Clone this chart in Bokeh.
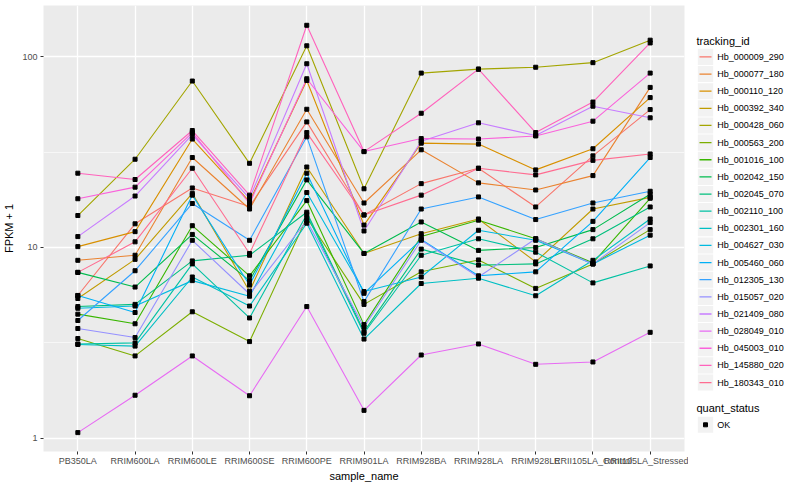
from bokeh.plotting import figure
from bokeh.models import (FactorRange, Range1d, FixedTicker, PrintfTickFormatter)
from bokeh.layouts import row
from bokeh.core.properties import value
from bokeh.embed import file_html
from bokeh.resources import INLINE

samples = ["PB350LA", "RRIM600LA", "RRIM600LE", "RRIM600SE", "RRIM600PE", "RRIM901LA",
           "RRIM928BA", "RRIM928LA", "RRIM928LE", "RRII105LA_Control", "RRII105LA_Stressed"]

tracking_ids = ["Hb_000009_290", "Hb_000077_180", "Hb_000110_120", "Hb_000392_340",
                "Hb_000428_060", "Hb_000563_200", "Hb_001016_100", "Hb_002042_150",
                "Hb_002045_070", "Hb_002110_100", "Hb_002301_160", "Hb_004627_030",
                "Hb_005460_060", "Hb_012305_130", "Hb_015057_020", "Hb_021409_080",
                "Hb_028049_010", "Hb_045003_010", "Hb_145880_020", "Hb_180343_010"]

colors = ["#F8766D", "#EA8331", "#D89000", "#C09B00", "#A3A500", "#7CAE00", "#39B600",
          "#00BB4E", "#00BF7D", "#00C1A3", "#00BFC4", "#00BAE0", "#00B0F6", "#35A2FF",
          "#9590FF", "#C77CFF", "#E76BF3", "#FA62DB", "#FF62BC", "#FF6C91"]

hb_000009_290 = [5.6, 13.3, 20.5, 16.4, 45.5, 14.8, 21.6, 26.0, 16.3, 30.2, 52.8]
hb_000077_180 = [8.56, 9.1, 29.6, 15.9, 53.0, 17.1, 32.5, 21.8, 20.0, 23.8, 69.0]
hb_000110_120 = [10.1, 12.1, 37.0, 17.4, 75.0, 13.1, 35.2, 34.8, 25.5, 32.9, 61.0]
hb_000392_340 = [5.4, 8.66, 19.2, 5.9, 26.4, 9.3, 11.8, 14.1, 8.4, 15.9, 18.3]
hb_000428_060 = [14.7, 29.0, 74.5, 27.6, 114.0, 20.3, 82.0, 86.0, 88.0, 93.0, 122.0]
hb_000563_200 = [3.33, 2.70, 4.6, 3.21, 14.3, 5.03, 7.45, 8.6, 6.1, 8.2, 12.4]
hb_001016_100 = [4.47, 3.98, 13.0, 7.1, 17.6, 3.94, 11.4, 13.9, 11.1, 8.3, 18.1]
hb_002042_150 = [7.4, 6.2, 11.7, 6.7, 22.6, 9.3, 13.6, 9.65, 10.0, 12.4, 19.0]
hb_002045_070 = [4.9, 5.03, 8.5, 9.1, 15.3, 3.62, 9.8, 8.08, 8.2, 11.1, 16.3]
hb_002110_100 = [3.12, 3.16, 8.2, 4.27, 14.9, 3.55, 9.1, 11.1, 9.45, 6.52, 8.0]
hb_002301_160 = [3.1, 3.04, 7.0, 4.93, 13.4, 3.31, 6.47, 6.9, 5.58, 8.56, 14.1]
hb_004627_030 = [4.8, 4.93, 6.7, 5.55, 19.4, 5.87, 7.0, 12.3, 10.9, 8.2, 11.6]
hb_005460_060 = [5.6, 4.56, 18.8, 6.35, 24.5, 5.75, 11.0, 7.1, 7.45, 13.7, 29.6]
hb_012305_130 = [4.14, 7.55, 17.0, 10.9, 38.0, 5.2, 15.9, 18.4, 14.0, 17.1, 19.7]
hb_015057_020 = [3.76, 3.37, 10.9, 5.7, 13.8, 3.83, 10.9, 7.0, 11.1, 8.2, 13.5]
hb_021409_080 = [11.4, 18.6, 39.0, 18.1, 91.8, 12.2, 36.0, 45.0, 38.6, 55.0, 47.8]
hb_028049_010 = [1.07, 1.68, 2.70, 1.67, 4.9, 1.40, 2.73, 3.12, 2.44, 2.51, 3.59]
hb_045003_010 = [18.0, 20.7, 40.0, 17.0, 76.6, 31.8, 37.2, 37.0, 38.4, 45.9, 82.0]
hb_145880_020 = [24.5, 22.7, 41.0, 18.8, 146.0, 31.8, 50.5, 86.0, 40.0, 57.8, 118.0]
hb_180343_010 = [7.4, 10.7, 26.0, 9.3, 40.0, 14.8, 18.8, 26.0, 24.0, 28.6, 30.9]

series = [hb_000009_290, hb_000077_180, hb_000110_120, hb_000392_340, hb_000428_060,
          hb_000563_200, hb_001016_100, hb_002042_150, hb_002045_070, hb_002110_100,
          hb_002301_160, hb_004627_030, hb_005460_060, hb_012305_130, hb_015057_020,
          hb_021409_080, hb_028049_010, hb_045003_010, hb_145880_020, hb_180343_010]

y_ticks = [1, 10, 100]
y_minor = [3.1623, 31.623]

FONT = "Liberation Sans"

MAIN_W = 688
TOTAL_W = 784
TOTAL_H = 484
TOP = 5
BOTTOM = 28

p = figure(width=MAIN_W, height=TOTAL_H,
           x_range=FactorRange(*samples, range_padding=0.2 / 11),
           y_axis_type="log", y_range=Range1d(0.852, 185.4),
           output_backend="svg", toolbar_location=None,
           min_border_left=40, min_border_right=4, min_border_top=TOP,
           min_border_bottom=BOTTOM)
p.background_fill_color = "#EBEBEB"
p.border_fill_color = "white"
p.outline_line_color = None

p.yaxis.ticker = FixedTicker(ticks=y_ticks, minor_ticks=y_minor)
p.yaxis.formatter = PrintfTickFormatter(format="%d")
p.ygrid.grid_line_color = "white"
p.ygrid.grid_line_width = 1.3
p.ygrid.minor_grid_line_color = "white"
p.ygrid.minor_grid_line_width = 0.6
p.xgrid.grid_line_color = "white"
p.xgrid.grid_line_width = 1.3

for ax in [p.xaxis[0], p.yaxis[0]]:
    ax.axis_line_color = None
    ax.major_tick_line_color = "#333333"
    ax.major_tick_in = 0
    ax.major_tick_out = 3
    ax.minor_tick_line_color = None
    ax.major_label_text_color = "#4D4D4D"
    ax.major_label_text_font = FONT
    ax.major_label_text_font_size = "9px"
    ax.axis_label_text_font = FONT
    ax.axis_label_text_font_size = "11px"
    ax.axis_label_text_font_style = "normal"
    ax.axis_label_text_color = "black"

p.xaxis.major_label_standoff = 1
p.xaxis.axis_label_standoff = 1
p.yaxis.major_label_standoff = 2
p.yaxis.axis_label_standoff = 4

p.xaxis.axis_label = "sample_name"
p.yaxis.axis_label = "FPKM + 1"

for vals, col in zip(series, colors):
    p.line(x=samples, y=vals, line_color=col, line_width=1.1)

for vals in series:
    p.scatter(x=samples, y=vals, marker="square", size=4, color="black")

# legend panel as its own figure; its data coordinates are layout pixels
LEG_W = TOTAL_W - MAIN_W
leg = figure(width=LEG_W, height=TOTAL_H,
             x_range=Range1d(MAIN_W, TOTAL_W), y_range=Range1d(TOTAL_H - BOTTOM, TOP),
             output_backend="svg", toolbar_location=None,
             min_border_left=0, min_border_right=0,
             min_border_top=TOP, min_border_bottom=BOTTOM)
leg.axis.visible = False
leg.grid.visible = False
leg.outline_line_color = None
leg.background_fill_color = "white"
leg.border_fill_color = "white"

step = 17.33
y0 = 57.0
key_x = 705
key_y = [y0 + i * step for i in range(len(tracking_ids))]
n = len(key_y)
leg.text(x=[696], y=[40.7], text=["tracking_id"], text_font=value(FONT),
         text_font_size=value("11px"), text_baseline="middle", text_align="left",
         text_color="black")
leg.rect(x=[key_x] * n, y=key_y, width=15.4, height=16.3,
         fill_color="#F2F2F2", line_color=None)
for ky, col in zip(key_y, colors):
    leg.line(x=[699, 711], y=[ky, ky], line_color=col, line_width=1.3)
leg.text(x=[716.7] * n, y=key_y, text=tracking_ids, text_font=value(FONT),
         text_font_size=value("9px"), text_baseline="middle", text_align="left",
         text_color="black")

leg.text(x=[696], y=[412.3], text=["quant_status"], text_font=value(FONT),
         text_font_size=value("11px"), text_baseline="middle", text_align="left",
         text_color="black")
leg.rect(x=[key_x], y=[429], width=15.4, height=16.3, fill_color="#F2F2F2", line_color=None)
leg.scatter(x=[key_x], y=[429], marker="square", size=4, color="black")
leg.text(x=[716.7], y=[429], text=["OK"], text_font=value(FONT),
         text_font_size=value("9px"), text_baseline="middle", text_align="left",
         text_color="black")

layout = row(p, leg, spacing=0)
open("out.html", "w").write(file_html(layout, INLINE))
